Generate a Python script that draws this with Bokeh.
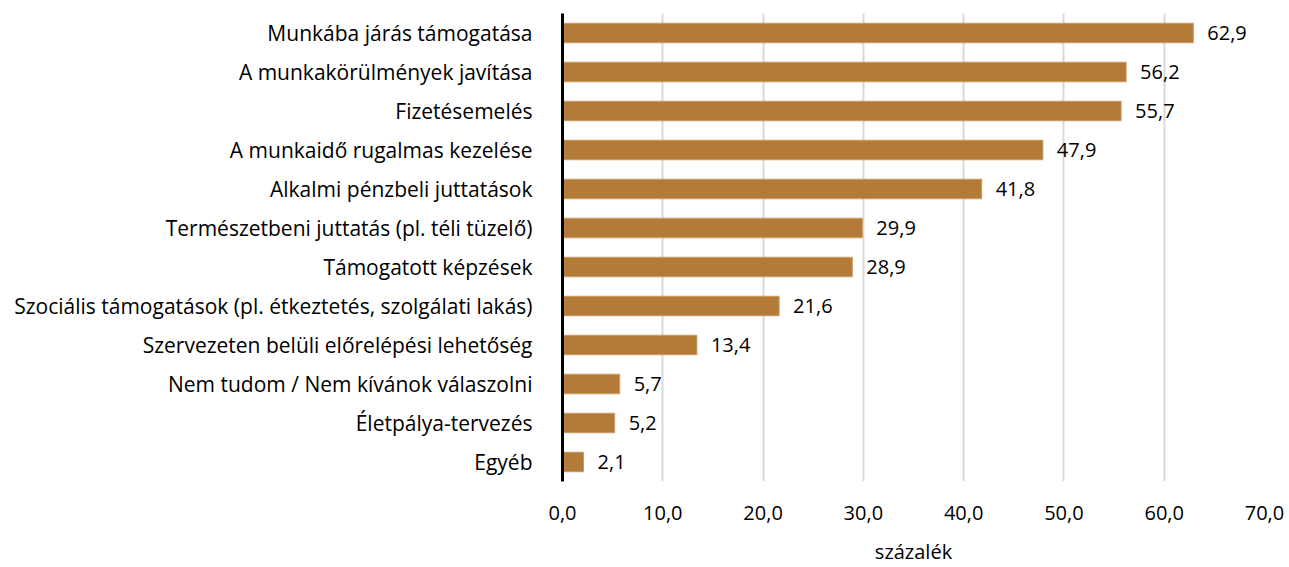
from bokeh.plotting import figure
from bokeh.models import ColumnDataSource, FactorRange, Range1d, FixedTicker, LabelSet
from bokeh.core.properties import value
from bokeh.embed import file_html
from bokeh.resources import INLINE

categories = [
    "Munkába járás támogatása",
    "A munkakörülmények javítása",
    "Fizetésemelés",
    "A munkaidő rugalmas kezelése",
    "Alkalmi pénzbeli juttatások",
    "Természetbeni juttatás (pl. téli tüzelő)",
    "Támogatott képzések",
    "Szociális támogatások (pl. étkeztetés, szolgálati lakás)",
    "Szervezeten belüli előrelépési lehetőség",
    "Nem tudom / Nem kívánok válaszolni",
    "Életpálya-tervezés",
    "Egyéb",
]
values = [62.9, 56.2, 55.7, 47.9, 41.8, 29.9, 28.9, 21.6, 13.4, 5.7, 5.2, 2.1]
x_ticks = [0, 10, 20, 30, 40, 50, 60, 70]
x_tick_labels = ["0,0", "10,0", "20,0", "30,0", "40,0", "50,0", "60,0", "70,0"]
x_title = "százalék"

FONT = "Open Sans"
FS = "20px"
FS_Y = "21px"
BAR = "#B47A38"

src = ColumnDataSource(dict(
    cat=categories,
    val=values,
    lab=[f"{v:.1f}".replace(".", ",") for v in values],
))

p = figure(
    width=1289, height=567,
    y_range=FactorRange(*list(reversed(categories)), range_padding=0),
    x_range=Range1d(0, 70),
    output_backend="svg", toolbar_location=None,
    min_border_left=562, min_border_right=25, min_border_top=13, min_border_bottom=75,
)
p.outline_line_color = None

p.hbar(y="cat", right="val", height=0.5, source=src, color=BAR, line_color="#C79A66", line_width=1)

labels = LabelSet(x="val", y="cat", text="lab", source=src, x_offset=14, y_offset=0,
                  text_baseline="middle", text_font=value(FONT), text_font_size=value(FS),
                  text_color="#000000")
p.add_layout(labels)

p.xaxis.ticker = FixedTicker(ticks=x_ticks)
p.xaxis.major_label_overrides = {t: l for t, l in zip(x_ticks, x_tick_labels)}
p.xaxis.axis_line_color = None
p.xaxis.major_tick_line_color = None
p.xaxis.minor_tick_line_color = None
p.xaxis.major_label_standoff = 18
p.xaxis.major_label_text_font = FONT
p.xaxis.major_label_text_font_size = FS
p.xaxis.major_label_text_color = "#000000"
p.xaxis.axis_label = x_title
p.xaxis.axis_label_text_font = FONT
p.xaxis.axis_label_text_font_size = FS
p.xaxis.axis_label_text_font_style = "normal"
p.xaxis.axis_label_text_color = "#000000"
p.xaxis.axis_label_standoff = 15

p.yaxis.axis_line_color = "#000000"
p.yaxis.axis_line_width = 3
p.yaxis.major_tick_line_color = None
p.yaxis.minor_tick_line_color = None
p.yaxis.major_label_standoff = 24
p.yaxis.major_label_text_font = FONT
p.yaxis.major_label_text_font_size = FS_Y
p.yaxis.major_label_text_color = "#000000"

p.xgrid.grid_line_color = "#D9D9D9"
p.xgrid.grid_line_width = 2
p.ygrid.grid_line_color = None

open("out.html", "w").write(file_html(p, INLINE))
